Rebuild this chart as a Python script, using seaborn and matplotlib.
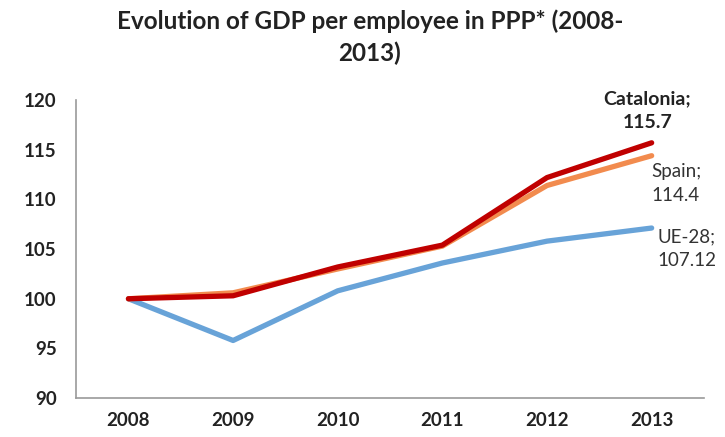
import matplotlib
matplotlib.use("Agg")
import matplotlib.pyplot as plt
import seaborn as sns
import pandas as pd

years = [2008, 2009, 2010, 2011, 2012, 2013]
ue28 = [100, 95.8, 100.8, 103.6, 105.8, 107.12]
spain = [100, 100.6, 103.0, 105.3, 111.4, 114.4]
catalonia = [100, 100.3, 103.2, 105.4, 112.2, 115.7]

series = ["UE-28", "Spain", "Catalonia"]
colors = {"UE-28": "#68a3d8", "Spain": "#f28b4e", "Catalonia": "#c00000"}

frame = pd.DataFrame({
	"year": years * 3,
	"value": ue28 + spain + catalonia,
	"series": ["UE-28"] * 6 + ["Spain"] * 6 + ["Catalonia"] * 6,
})

sns.set_style("white")
plt.rcParams["font.family"] = ["Lato", "DejaVu Sans"]

fig = plt.figure(figsize=(7.25, 4.37), dpi=100)
ax = fig.add_axes([0.105, 0.089, 0.866, 0.682])

sns.lineplot(data=frame, x="year", y="value", hue="series", hue_order=series,
			 palette=colors, linewidth=3.8, legend=False, ax=ax,
			 solid_capstyle="round")

ax.set_xlim(2007.5, 2013.5)
ax.set_ylim(90, 120)
ax.set_xticks(years)
ax.set_xticklabels([str(y) for y in years], fontsize=13.5, fontweight="bold", color="#222222")
ax.set_yticks(range(90, 121, 5))
ax.set_yticklabels([str(v) for v in range(90, 121, 5)], fontsize=13.5, fontweight="bold", color="#222222")
ax.tick_params(axis="y", length=0, pad=14)
ax.tick_params(axis="x", length=0, pad=10)
ax.set_xlabel("")
ax.set_ylabel("")
for s in ["top", "right"]:
	ax.spines[s].set_visible(False)
for s in ["left", "bottom"]:
	ax.spines[s].set_color("#9a9a9a")
	ax.spines[s].set_linewidth(1.2)

fig.text(0.51, 0.978, "Evolution of GDP per employee in PPP* (2008-\n2013)",
		 ha="center", va="top", fontsize=17.5, fontweight="bold",
		 color="#222222", linespacing=1.45)

ax.annotate("Catalonia;\n115.7", xy=(years[-1], catalonia[-1]), xytext=(-3, 23),
			textcoords="offset points", ha="center", va="center",
			fontsize=14, fontweight="bold", color="#222222", linespacing=1.45)
ax.annotate("Spain;\n114.4", xy=(years[-1], spain[-1]), xytext=(0, -20),
			textcoords="offset points", ha="left", va="center",
			fontsize=13.5, color="#333333", linespacing=1.45)
ax.annotate("UE-28;\n107.12", xy=(years[-1], ue28[-1]), xytext=(4, -15),
			textcoords="offset points", ha="left", va="center",
			fontsize=13.5, color="#333333", linespacing=1.45)

fig.savefig("out.png", dpi=100)
